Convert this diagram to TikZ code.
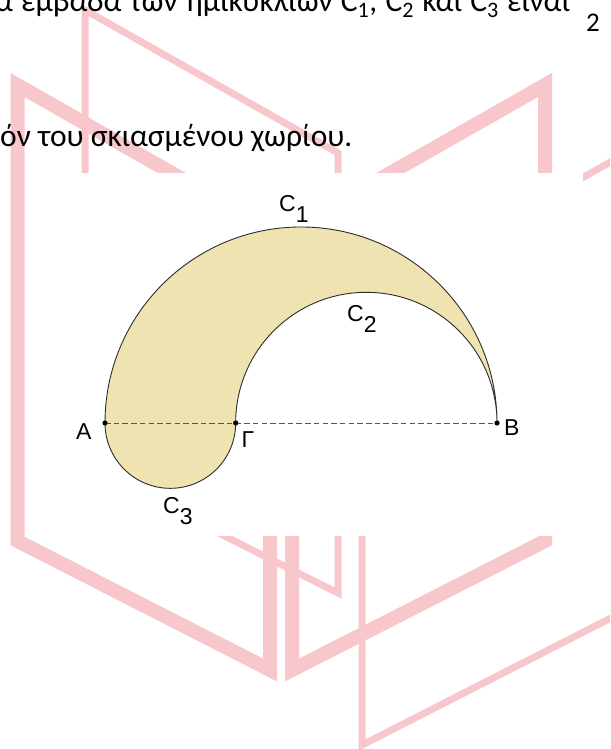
\documentclass[tikz,border=0pt]{standalone}
\usepackage{fontspec}
\setmainfont{Carlito}
\newfontfamily\figfont{Liberation Sans}
\usetikzlibrary{calc}
\definecolor{wmpink}{RGB}{247,199,204}
\definecolor{lunefill}{RGB}{238,227,177}
\definecolor{arcgray}{RGB}{45,45,45}
\definecolor{dashgray}{RGB}{85,85,85}
\newcommand{\crv}[1]{C\raisebox{-11pt}{#1}}
\tikzset{
  wmthick/.style ={draw=wmpink, line width=14pt, line join=miter},
  wmthin/.style  ={draw=wmpink, line width=7pt, line join=miter},
  pagetext/.style={anchor=base west, inner sep=0pt, font=\fontsize{31.5}{38}\selectfont},
  lbl/.style     ={anchor=base west, inner sep=0pt, font=\figfont\fontsize{23}{27}\selectfont},
  arcline/.style ={draw=arcgray, line width=0.9pt},
  diamline/.style={draw=dashgray, line width=0.8pt, dash pattern=on 5.5pt off 3.2pt},
}

\begin{document}
\begin{tikzpicture}[x=1pt, y=1pt]
  \clip (0,0) rectangle (610,749);
  % watermark of the page
  \draw[wmthick] (17.5,664) -- (17.5,208) -- (270,79) -- (270,520) -- cycle;
  \draw[wmthick] (545,664) -- (545,208) -- (292,79) -- (292,520) -- cycle;
  \draw[wmthin]  (85,739) -- (85,283) -- (338,156) -- (338,596) -- cycle;
  \draw[wmthin]  (660,615) -- (362,447) -- (362,4) -- (660,156);
  % text of the page
  \node[pagetext] (line1) at (-5,737)
    {\makebox[575pt][s]{α εμβαδά των ημικυκλίων C\textsubscript{1}, C\textsubscript{2} και C\textsubscript{3} είναι}};
  \node[pagetext, font=\fontsize{27}{32}\selectfont] (pagenum) at (586,717) {2};
  \node[pagetext] (line2) at (0,602) {όν του σκιασμένου χωρίου.};
  % figure
  \fill[white] (45,213) rectangle (583,576);
  \coordinate (A) at (105,326);
  \coordinate (G) at (235.667,326);
  \coordinate (B) at (497,326);
  \filldraw[arcline, fill=lunefill] (A)
    arc[start angle=180, end angle=0, radius=196]
    arc[start angle=0, end angle=180, radius=130.667]
    arc[start angle=0, end angle=-180, radius=65.333] -- cycle;
  \draw[diamline] (A) -- (B);
  \foreach \p in {A,G,B} \fill (\p) circle (2.6);
  \node[lbl] (c1lbl) at (279,537) {\crv{1}};
  \node[lbl] (c2lbl) at (347,427) {\crv{2}};
  \node[lbl] (c3lbl) at (163,235) {\crv{3}};
  \node[lbl] (albl)  at (76,309)  {A};
  \node[lbl] (glbl)  at (241.5,301) {Γ};
  \node[lbl] (blbl)  at (504,313) {B};
\end{tikzpicture}
\end{document}
